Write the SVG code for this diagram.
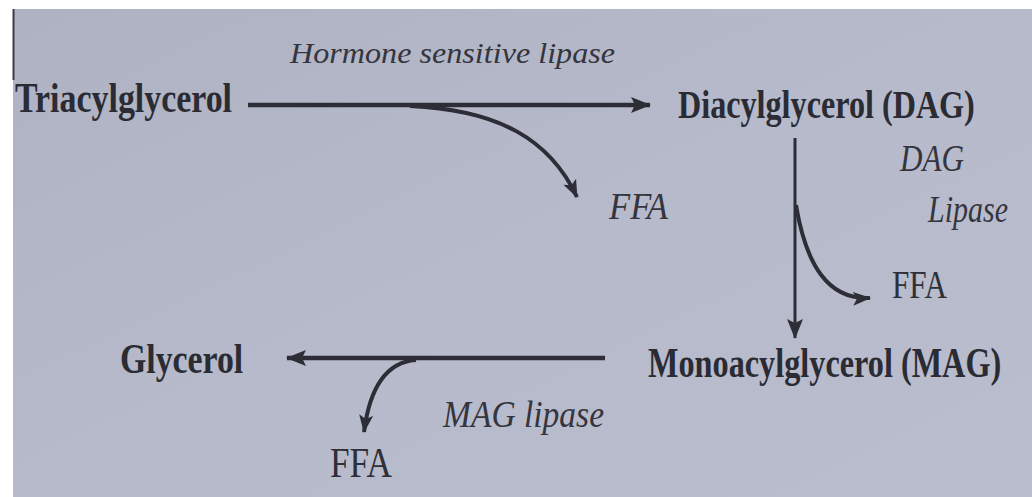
<svg xmlns="http://www.w3.org/2000/svg" width="1032" height="497" viewBox="0 0 1032 497">
  <defs>
    <linearGradient id="bg" x1="0" y1="0" x2="1" y2="1">
      <stop offset="0" stop-color="#aeb2c2"/>
      <stop offset="0.5" stop-color="#b6bacb"/>
      <stop offset="1" stop-color="#b9bdcd"/>
    </linearGradient>
    <marker id="head" viewBox="0 0 20 18" refX="19" refY="9" markerWidth="20" markerHeight="18" markerUnits="userSpaceOnUse" orient="auto">
      <path d="M0,1 L20,9 L0,17 L4,9 Z" fill="#2c2d36"/>
    </marker>
    <marker id="headS" viewBox="0 0 18 16" refX="17" refY="8" markerWidth="18" markerHeight="16" markerUnits="userSpaceOnUse" orient="auto">
      <path d="M0,1 L18,8 L0,15 L4,8 Z" fill="#2c2d36"/>
    </marker>
  </defs>
  <style>
    .node { font-family: "Liberation Serif", "DejaVu Serif", serif; font-weight: bold; fill: #2a2b33; }
    .lab { font-family: "Liberation Serif", "DejaVu Serif", serif; font-style: italic; fill: #34353e; }
    .ffa { font-family: "Liberation Serif", "DejaVu Serif", serif; fill: #2e2f38; }
    .main { fill: none; stroke: #2c2d36; stroke-width: 4.5; }
    .thin { fill: none; stroke: #2c2d36; stroke-width: 3; }
    .branch { fill: none; stroke: #2c2d36; stroke-width: 4; }
  </style>
  <rect x="0" y="0" width="1032" height="497" fill="#ffffff"/>
  <rect x="13" y="9" width="1019" height="488" fill="url(#bg)"/>
  <line x1="13.5" y1="9" x2="13.5" y2="80" stroke="#3a3b44" stroke-width="2"/>

  <g id="connectors">
    <path class="main" d="M248,105 L650,105" marker-end="url(#head)"/>
    <path class="branch" d="M410,106 C500,110 550,140 577,197" marker-end="url(#headS)"/>
    <path class="thin" d="M795,138 L795,338" marker-end="url(#head)"/>
    <path class="branch" d="M796,205 C806,265 828,300 870,298" marker-end="url(#headS)"/>
    <path class="main" d="M605,358 L287,358" marker-end="url(#head)"/>
    <path class="branch" d="M416,360 C388,362 370,385 364,432" marker-end="url(#headS)"/>
  </g>

  <g id="triacylglycerol" transform="translate(15,112) scale(0.795,1)">
    <text class="node" x="0" y="0" font-size="42" textLength="273" lengthAdjust="spacingAndGlyphs">Triacylglycerol</text>
  </g>
  <g id="hsl-label">
    <text class="lab" x="290" y="63" font-size="30" textLength="325" lengthAdjust="spacingAndGlyphs">Hormone sensitive lipase</text>
  </g>
  <g id="ffa1">
    <text class="lab" x="609" y="219" font-size="38" textLength="59" lengthAdjust="spacingAndGlyphs">FFA</text>
  </g>
  <g id="diacylglycerol" transform="translate(678,118) scale(0.82,1)">
    <text class="node" x="0" y="0" font-size="39" textLength="362" lengthAdjust="spacingAndGlyphs">Diacylglycerol (DAG)</text>
  </g>
  <g id="dag-lipase-label">
    <text class="lab" x="900" y="171" font-size="38" textLength="64" lengthAdjust="spacingAndGlyphs">DAG</text>
    <text class="lab" x="928" y="222" font-size="38" textLength="80" lengthAdjust="spacingAndGlyphs">Lipase</text>
  </g>
  <g id="ffa2">
    <text class="ffa" x="892" y="298" font-size="40" textLength="55" lengthAdjust="spacingAndGlyphs">FFA</text>
  </g>
  <g id="monoacylglycerol" transform="translate(648,377) scale(0.75,1)">
    <text class="node" x="0" y="0" font-size="43" textLength="471" lengthAdjust="spacingAndGlyphs">Monoacylglycerol (MAG)</text>
  </g>
  <g id="glycerol" transform="translate(120,373) scale(0.78,1)">
    <text class="node" x="0" y="0" font-size="43" textLength="158" lengthAdjust="spacingAndGlyphs">Glycerol</text>
  </g>
  <g id="mag-lipase-label">
    <text class="lab" x="443" y="427" font-size="38" textLength="161" lengthAdjust="spacingAndGlyphs">MAG lipase</text>
  </g>
  <g id="ffa3">
    <text class="ffa" x="330" y="477" font-size="42" textLength="62" lengthAdjust="spacingAndGlyphs">FFA</text>
  </g>
</svg>
